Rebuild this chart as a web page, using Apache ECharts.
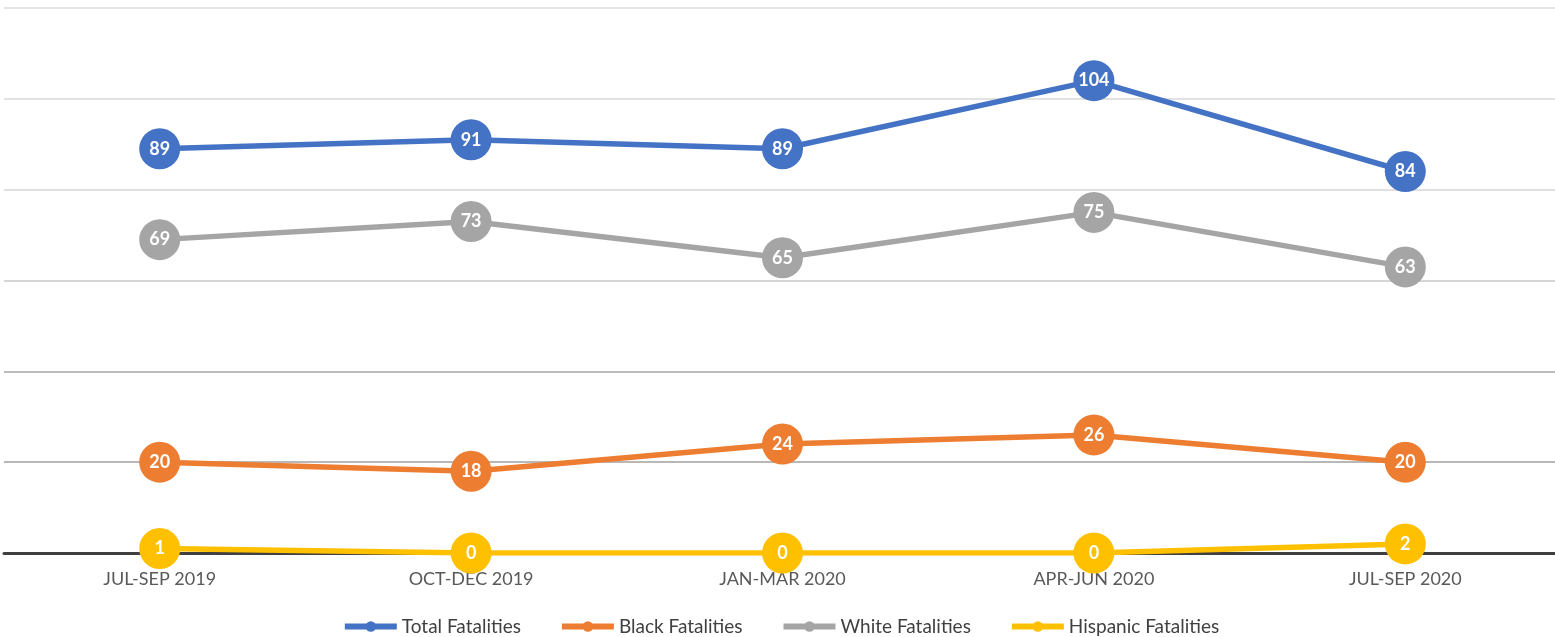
<!DOCTYPE html>
<html lang="en">
<head>
    <meta charset="UTF-8">
    <title>Fatalities</title>
    <style>
        html, body { margin: 0; padding: 0; background: #fff; overflow: hidden; }
    </style>
</head>
<body>
<div id="main" style="width: 1561px;height:637px;"></div>
<script type="text/javascript" src="https://cdn.jsdelivr.net/npm/echarts@6/dist/echarts.min.js"></script>
<script>
    var quarters = ['JUL-SEP 2019', 'OCT-DEC 2019', 'JAN-MAR 2020', 'APR-JUN 2020', 'JUL-SEP 2020'];
    var totalFatalities = [89, 91, 89, 104, 84];
    var blackFatalities = [20, 18, 24, 26, 20];
    var whiteFatalities = [69, 73, 65, 75, 63];
    var hispanicFatalities = [1, 0, 0, 0, 2];

    var myChart = echarts.init(document.getElementById('main'));

    function makeSeries(name, data, color) {
        return {
            name: name,
            type: 'line',
            data: data,
            symbol: 'circle',
            symbolSize: 41,
            lineStyle: { width: 5.5, color: color },
            itemStyle: { color: color },
            label: {
                show: true,
                position: 'inside',
                color: '#fff',
                fontWeight: 'bold',
                fontSize: 18,
                fontFamily: 'Lato'
            },
            emphasis: { disabled: true }
        };
    }

    var option = {
        animation: false,
        textStyle: { fontFamily: 'Lato' },
        grid: { left: 4, right: 0, top: 8, bottom: 84 },
        legend: {
            bottom: -4,
            left: 'center',
            itemWidth: 52,
            itemHeight: 13,
            itemGap: 38,
            lineStyle: { width: 6 },
            textStyle: { fontSize: 19, color: '#404040', fontFamily: 'Lato' }
        },
        xAxis: {
            type: 'category',
            data: quarters,
            axisTick: { show: false },
            axisLine: { lineStyle: { color: '#404040', width: 3 } },
            axisLabel: { color: '#595959', fontSize: 18, margin: 17 }
        },
        yAxis: {
            type: 'value',
            min: 0,
            max: 120,
            interval: 20,
            axisLabel: { show: false },
            axisLine: { show: false },
            axisTick: { show: false },
            splitLine: {
                lineStyle: {
                    width: 2,
                    color: ['#cccccc', '#b8b8b8', '#bcbcbc', '#d6d6d6', '#e0e0e0', '#e2e2e2', '#e4e4e4']
                }
            }
        },
        series: [
            makeSeries('Total Fatalities', totalFatalities, '#4472C4'),
            makeSeries('Black Fatalities', blackFatalities, '#ED7D31'),
            makeSeries('White Fatalities', whiteFatalities, '#A5A5A5'),
            makeSeries('Hispanic Fatalities', hispanicFatalities, '#FFC000')
        ]
    };

    myChart.setOption(option);
</script>
</body>
</html>
